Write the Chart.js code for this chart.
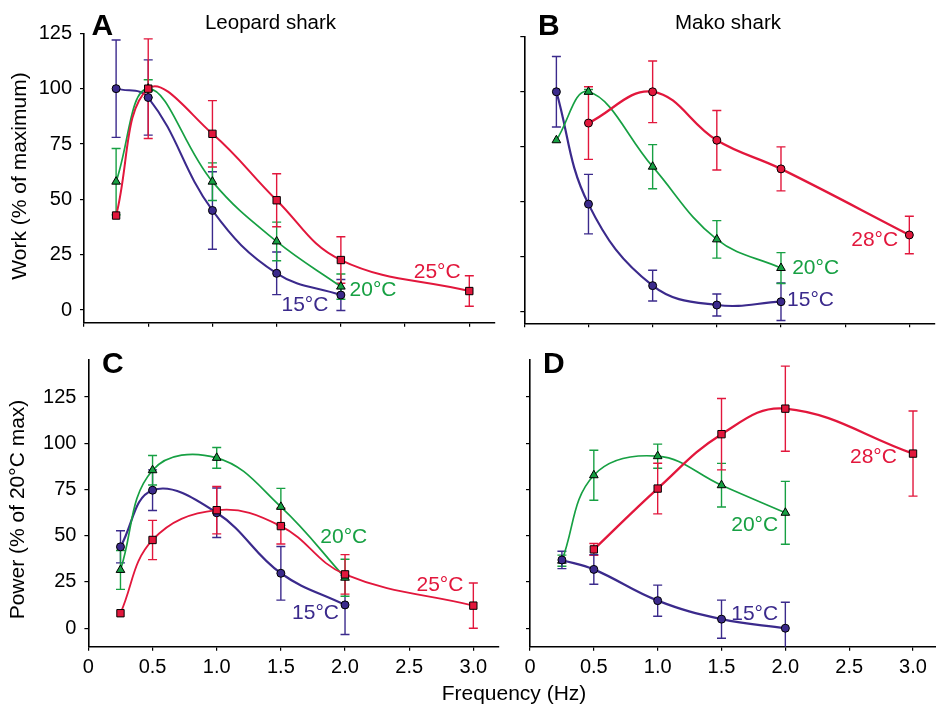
<!DOCTYPE html>
<html>
<head>
<meta charset="utf-8">
<script src="https://cdn.jsdelivr.net/npm/chart.js@4.4.1/dist/chart.umd.min.js"></script>
<style>
html,body{margin:0;padding:0;background:#fff;}
#wrap{position:relative;width:936px;height:706px;overflow:hidden;background:#fff;}
#wrap canvas{position:absolute;left:0;top:0;}
</style>
</head>
<body>
<div id="wrap">
<canvas id="cA" width="936" height="706"></canvas>
<canvas id="cB" width="936" height="706"></canvas>
<canvas id="cC" width="936" height="706"></canvas>
<canvas id="cD" width="936" height="706"></canvas>
</div>
<script>
// ---------------- DATA ----------------
const xTicks = [0, 0.5, 1.0, 1.5, 2.0, 2.5, 3.0];
const xTickLabels = ['0', '0.5', '1.0', '1.5', '2.0', '2.5', '3.0'];
const yTicks = [0, 25, 50, 75, 100, 125];
const yTickLabels = ['0', '25', '50', '75', '100', '125'];

// Panel A – Leopard shark, work (% of maximum)
const freqA15 = [0.25, 0.5, 1.0, 1.5, 2.0];
const workA15 = [100, 96, 45, 16.6, 6.8];
const errA15  = [22, 17, 17.5, 9.6, 7];
const freqA20 = [0.25, 0.5, 1.0, 1.5, 2.0];
const workA20 = [58, 100, 58, 31, 10.6];
const errA20  = [15, 4, 8.5, 8.7, 5.7];
const freqA25 = [0.25, 0.5, 1.0, 1.5, 2.0, 3.0];
const workA25 = [42.7, 100, 79.6, 49.6, 22.6, 8.6];
const errA25  = [0, 22.5, 15, 12, 10.5, 6.9];

// Panel B – Mako shark, work (% of maximum)
const freqB15 = [0.25, 0.5, 1.0, 1.5, 2.0];
const workB15 = [100, 49, 12, 3.2, 4.7];
const errB15  = [16, 13.5, 7, 5, 8.5];
const freqB20 = [0.25, 0.5, 1.0, 1.5, 2.0];
const workB20 = [78, 100, 66, 33, 20];
const errB20  = [0, 1, 10, 8.5, 7];
const freqB28 = [0.5, 1.0, 1.5, 2.0, 3.0];
const workB28 = [85.8, 100, 78, 65, 35];
const errB28  = [16.5, 14, 13.5, 10, 8.5];

// Panel C – Leopard shark, power (% of 20°C max)
const freqC15 = [0.25, 0.5, 1.0, 1.5, 2.0];
const powC15  = [44, 74.6, 62.4, 29.7, 12.6];
const errC15  = [8.7, 11, 13.4, 14.5, 16];
const freqC20 = [0.25, 0.5, 1.0, 1.5, 2.0];
const powC20  = [31.5, 85.4, 92.1, 65.6, 27.3];
const errC20  = [10.5, 8, 5.6, 10, 10];
const freqC25 = [0.25, 0.5, 1.0, 1.5, 2.0, 3.0];
const powC25  = [8.1, 47.7, 63.8, 55.2, 29.1, 12.2];
const errC25  = [0, 10.6, 12.8, 9.7, 10.7, 12.2];

// Panel D – Mako shark, power (% of 20°C max)
const freqD15 = [0.25, 0.5, 1.0, 1.5, 2.0];
const powD15  = [36.9, 31.8, 14.9, 4.9, 0];
const errD15  = [4.7, 8, 8.4, 10.3, 14];
const freqD20 = [0.25, 0.5, 1.0, 1.5, 2.0];
const powD20  = [36.5, 82.7, 93, 77.3, 62.4];
const errD20  = [3, 13.5, 6.5, 11.8, 17];
const freqD28 = [0.5, 1.0, 1.5, 2.0, 3.0];
const powD28  = [42.6, 75.5, 104.9, 118.7, 94.4];
const errD28  = [3.2, 13.7, 19.3, 23, 23];

// ---------------- STYLE ----------------
const FONT = '"Liberation Sans", Arial, Helvetica, sans-serif';
const RED = '#e2173c';
const GREEN = '#17a043';
const PURPLE = '#3b2a8c';

const panelTexts = {};

const errorBarPlugin = {
  id: 'errorBars',
  beforeDatasetsDraw(chart) {
    const ctx = chart.ctx, xs = chart.scales.x, ys = chart.scales.y, a = chart.chartArea;
    ctx.save();
    ctx.beginPath();
    ctx.rect(a.left - 10, 0, a.right - a.left + 20, a.bottom);
    ctx.clip();
    for (let d = chart.data.datasets.length - 1; d >= 0; d--) {
      const ds = chart.data.datasets[d];
      if (!ds.errors) continue;
      ctx.strokeStyle = ds.borderColor;
      ctx.lineWidth = 1.4;
      ds.data.forEach((p, i) => {
        const e = ds.errors[i];
        if (!e) return;
        const x = xs.getPixelForValue(p.x);
        const yt = ys.getPixelForValue(p.y + e);
        const yb = ys.getPixelForValue(p.y - e);
        ctx.beginPath();
        ctx.moveTo(x, yt); ctx.lineTo(x, yb);
        ctx.moveTo(x - 4.5, yt); ctx.lineTo(x + 4.5, yt);
        ctx.moveTo(x - 4.5, yb); ctx.lineTo(x + 4.5, yb);
        ctx.stroke();
      });
    }
    ctx.restore();
  }
};

const textPlugin = {
  id: 'panelTexts',
  afterDraw(chart) {
    const items = panelTexts[chart.canvas.id] || [];
    const ctx = chart.ctx;
    items.forEach(t => {
      ctx.save();
      ctx.font = t.font;
      ctx.fillStyle = t.color || '#000';
      ctx.textAlign = t.align || 'center';
      ctx.textBaseline = t.baseline || 'middle';
      let x = t.x, y = t.y;
      if (t.data) {
        x = chart.scales.x.getPixelForValue(t.x);
        y = chart.scales.y.getPixelForValue(t.y);
      }
      ctx.translate(x, y);
      if (t.rotate) ctx.rotate(t.rotate);
      ctx.fillText(t.text, 0, 0);
      ctx.restore();
    });
  }
};
Chart.register(errorBarPlugin, textPlugin);

function pts(xs, ys) { return xs.map((x, i) => ({ x: x, y: ys[i] })); }

function series(label, xs, ys, errs, color, style, width) {
  return {
    label: label,
    data: pts(xs, ys),
    errors: errs,
    borderColor: color,
    backgroundColor: color,
    borderWidth: width,
    tension: 0.4,
    fill: false,
    pointStyle: style,
    pointRadius: style === 'circle' ? 4 : (style === 'rect' ? 5.2 : 5),
    pointBorderColor: '#000',
    pointBorderWidth: 1,
    pointBackgroundColor: color,
    pointHoverRadius: 5
  };
}

function makePanel(id, area, yRange, xMax, yW, xH, showX, showY, datasets) {
  const pad = {
    left: area.l - yW,
    top: area.t,
    right: 936 - area.r,
    bottom: 706 - area.b - xH
  };
  const tickFont = { family: FONT, size: 20 };
  return new Chart(document.getElementById(id), {
    type: 'line',
    data: { datasets: datasets },
    options: {
      responsive: false,
      animation: false,
      events: [],
      layout: { padding: pad, autoPadding: false },
      plugins: { legend: { display: false }, tooltip: { enabled: false }, title: { display: false } },
      scales: {
        x: {
          type: 'linear', min: 0, max: xMax,
          afterBuildTicks: s => { s.ticks = xTicks.map(v => ({ value: v })); },
          afterFit: s => { s.height = xH; s.paddingLeft = 0; s.paddingRight = 0; s.paddingTop = 0; s.paddingBottom = 0; },
          ticks: {
            autoSkip: false, maxRotation: 0, padding: 5, color: '#000', font: tickFont,
            callback: (v, i) => showX ? xTickLabels[i] : ''
          },
          grid: { drawOnChartArea: false, drawTicks: true, tickLength: 4, color: '#000', lineWidth: 1.2 },
          border: { display: true, color: '#000', width: 1.6 }
        },
        y: {
          type: 'linear', min: yRange[0], max: yRange[1],
          afterBuildTicks: s => { s.ticks = yTicks.map(v => ({ value: v })); },
          afterFit: s => { s.width = yW; s.paddingLeft = 0; s.paddingRight = 0; s.paddingTop = 0; s.paddingBottom = 0; },
          ticks: {
            autoSkip: false, padding: 8, color: '#000', font: tickFont,
            callback: (v, i) => showY ? yTickLabels[i] : ''
          },
          grid: { drawOnChartArea: false, drawTicks: true, tickLength: 4, color: '#000', lineWidth: 1.2 },
          border: { display: true, color: '#000', width: 1.6 }
        }
      }
    }
  });
}

const LBL = '21px ' + FONT;
const TITLE = '20.5px ' + FONT;
const AXT = '21px ' + FONT;
const LET = 'bold 30px ' + FONT;

panelTexts.cA = [
  { text: 'A', x: 91.5, y: 35, font: LET, align: 'left', baseline: 'alphabetic' },
  { text: 'Leopard shark', x: 270.5, y: 29, font: TITLE, baseline: 'alphabetic' },
  { text: 'Work (% of maximum)', x: 20, y: 176, font: AXT, rotate: -Math.PI / 2 },
  { text: '25°C', x: 2.75, y: 17.2, data: true, font: LBL, color: RED },
  { text: '20°C', x: 2.25, y: 9, data: true, font: LBL, color: GREEN },
  { text: '15°C', x: 1.72, y: 2.3, data: true, font: LBL, color: PURPLE }
];
panelTexts.cB = [
  { text: 'B', x: 538, y: 35, font: LET, align: 'left', baseline: 'alphabetic' },
  { text: 'Mako shark', x: 728, y: 28.5, font: TITLE, baseline: 'alphabetic' },
  { text: '28°C', x: 2.73, y: 32.7, data: true, font: LBL, color: RED },
  { text: '20°C', x: 2.27, y: 20, data: true, font: LBL, color: GREEN },
  { text: '15°C', x: 2.23, y: 5.5, data: true, font: LBL, color: PURPLE }
];
panelTexts.cC = [
  { text: 'C', x: 102, y: 373, font: LET, align: 'left', baseline: 'alphabetic' },
  { text: 'Power (% of 20°C max)', x: 18.5, y: 509.5, font: AXT, rotate: -Math.PI / 2 },
  { text: 'Frequency (Hz)', x: 514, y: 700, font: AXT, baseline: 'alphabetic' },
  { text: '20°C', x: 1.99, y: 49.3, data: true, font: LBL, color: GREEN },
  { text: '25°C', x: 2.74, y: 23.4, data: true, font: LBL, color: RED },
  { text: '15°C', x: 1.77, y: 8.3, data: true, font: LBL, color: PURPLE }
];
panelTexts.cD = [
  { text: 'D', x: 543, y: 373, font: LET, align: 'left', baseline: 'alphabetic' },
  { text: '28°C', x: 2.69, y: 92.4, data: true, font: LBL, color: RED },
  { text: '20°C', x: 1.76, y: 55.8, data: true, font: LBL, color: GREEN },
  { text: '15°C', x: 1.76, y: 7.7, data: true, font: LBL, color: PURPLE }
];

makePanel('cA', { l: 84, t: 33.3, r: 495, b: 322.7 }, [-5.7, 125], 3.2, 60, 8, false, true, [
  series('25°C', freqA25, workA25, errA25, RED, 'rect', 2),
  series('20°C', freqA20, workA20, errA20, GREEN, 'triangle', 1.7),
  series('15°C', freqA15, workA15, errA15, PURPLE, 'circle', 2)
]);
makePanel('cB', { l: 524.3, t: 36.7, r: 935, b: 323.3 }, [-5.1, 125], 3.2, 8, 8, false, false, [
  series('28°C', freqB28, workB28, errB28, RED, 'circle', 2.3),
  series('20°C', freqB20, workB20, errB20, GREEN, 'triangle', 1.7),
  series('15°C', freqB15, workB15, errB15, PURPLE, 'circle', 2.2)
]);
makePanel('cC', { l: 88.4, t: 360, r: 499, b: 646.7 }, [-10, 145], 3.2, 60, 50, true, true, [
  series('25°C', freqC25, powC25, errC25, RED, 'rect', 1.8),
  series('20°C', freqC20, powC20, errC20, GREEN, 'triangle', 1.7),
  series('15°C', freqC15, powC15, errC15, PURPLE, 'circle', 2.2)
]);
makePanel('cD', { l: 530, t: 360, r: 936, b: 646.7 }, [-10, 145], 3.18, 8, 50, true, false, [
  series('15°C', freqD15, powD15, errD15, PURPLE, 'circle', 2.2),
  series('28°C', freqD28, powD28, errD28, RED, 'rect', 2.3),
  series('20°C', freqD20, powD20, errD20, GREEN, 'triangle', 1.7)
]);
</script>
</body>
</html>
